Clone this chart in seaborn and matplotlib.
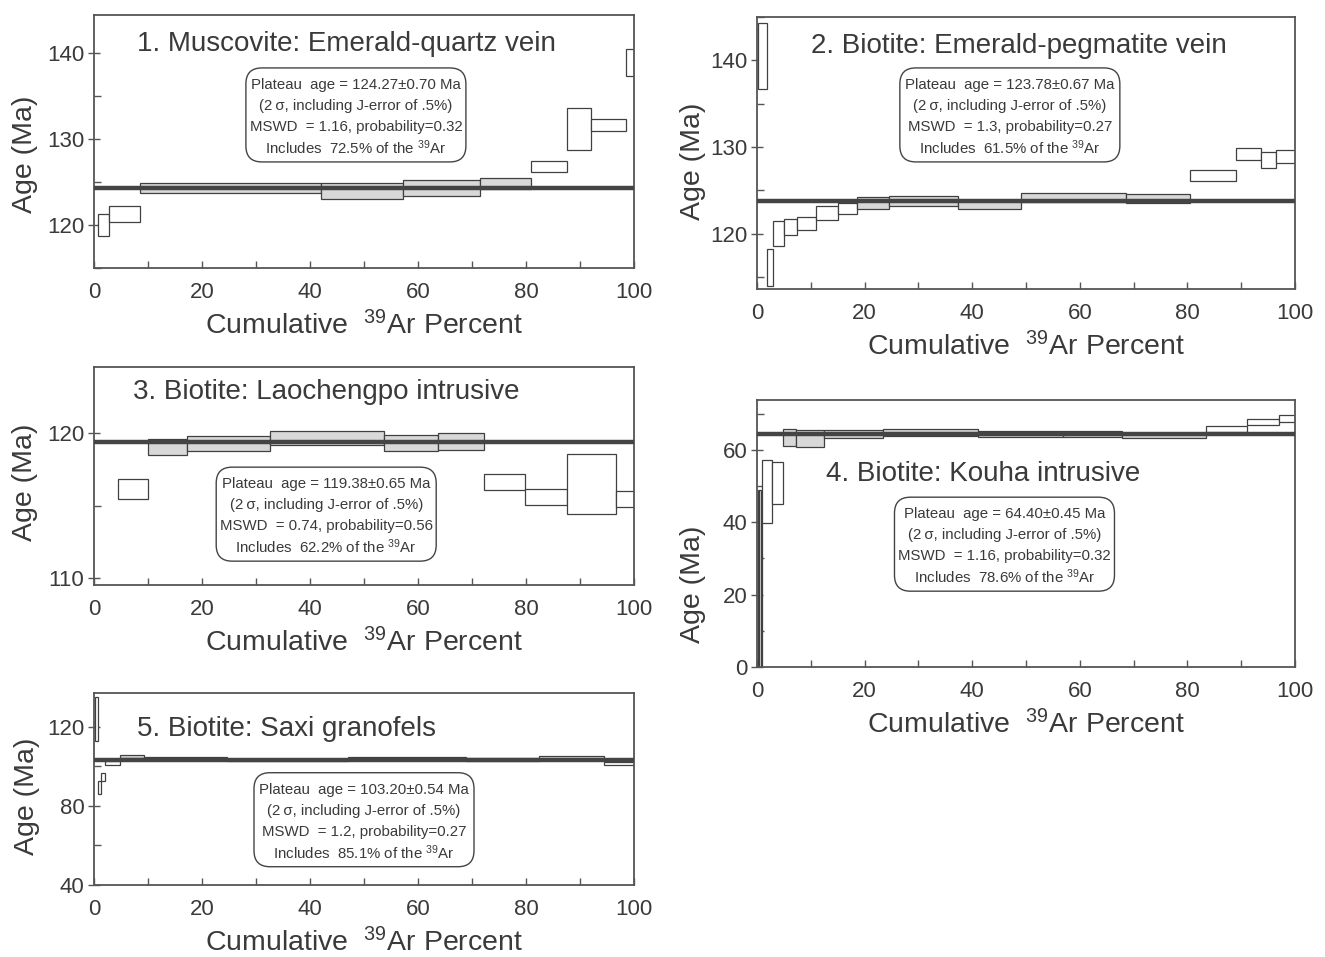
import numpy as np
import matplotlib
matplotlib.use("Agg")
import matplotlib.pyplot as plt
import seaborn as sns
from matplotlib.ticker import MultipleLocator
from matplotlib.patches import FancyBboxPatch
from matplotlib.transforms import IdentityTransform, offset_copy

# ---------------- data (cumulative 39Ar % edges, age, half-error) ----------------
p1_edges = [0.65, 2.8, 8.6, 42.0, 57.2, 71.5, 81.0, 87.6, 92.0, 98.5, 100]
p1_age = [120.0, 121.25, 124.27, 123.97, 124.3, 124.86, 126.76, 131.15, 131.57, 138.9]
p1_err = [1.33, 0.93, 0.58, 0.9, 0.93, 0.64, 0.64, 2.48, 0.7, 1.6]
p1_plateau_steps = [2, 5]
p1_plateau_age = 124.27

p2_edges = [0.2, 1.86, 3.0, 5.0, 7.4, 11.0, 15.0, 18.6, 24.5, 37.4, 49.0, 68.6, 80.4, 89.0, 93.7, 96.5, 100]
p2_age = [140.5, 116.1, 120.0, 120.8, 121.19, 122.39, 122.93, 123.52, 123.77, 123.32, 124.17, 124.05,
          126.68, 129.18, 128.49, 128.9]
p2_err = [3.8, 2.1, 1.4, 0.92, 0.77, 0.78, 0.63, 0.69, 0.6, 0.5, 0.54, 0.54, 0.6, 0.73, 0.92, 0.75]
p2_plateau_steps = [7, 11]
p2_plateau_age = 123.78

p3_edges = [4.4, 10.0, 17.25, 32.55, 53.7, 63.7, 72.2, 79.75, 87.6, 96.7, 100]
p3_age = [116.13, 119.04, 119.31, 119.69, 119.35, 119.44, 116.61, 115.58, 116.5, 115.48]
p3_err = [0.69, 0.57, 0.5, 0.47, 0.54, 0.58, 0.55, 0.55, 2.06, 0.56]
p3_plateau_steps = [1, 5]
p3_plateau_age = 119.38

p4_edges = [0.19, 0.45, 0.72, 1.0, 2.8, 4.9, 7.2, 12.4, 23.45, 41.0, 56.9, 67.9, 83.5, 91.1, 97.1, 100]
p4_age = [20.0, 20.0, 20.0, 48.55, 50.8, 63.45, 63.15, 64.4, 64.85, 64.39, 64.39, 64.07, 65.76, 67.73, 68.79]
p4_err = [29.0, 29.0, 29.0, 8.65, 5.8, 2.35, 2.42, 1.0, 1.0, 0.73, 0.73, 0.69, 0.73, 0.78, 1.0]
p4_plateau_steps = [5, 11]
p4_plateau_age = 64.40

p5_edges = [0.13, 0.65, 1.24, 2.1, 4.9, 9.3, 16.45, 24.6, 37.6, 47.0, 56.3, 62.0, 68.8, 82.4, 94.5, 100]
p5_age = [124.0, 89.25, 94.5, 101.7, 104.9, 104.1, 104.0, 103.3, 103.2, 104.0, 104.0, 103.85, 103.4, 104.5, 101.35]
p5_err = [11.1, 3.5, 2.0, 0.85, 0.7, 0.6, 0.6, 0.6, 0.6, 0.65, 0.65, 0.6, 0.55, 0.65, 0.67]
p5_plateau_steps = [4, 13]
p5_plateau_age = 103.20

titles = ["1. Muscovite: Emerald-quartz vein",
          "2. Biotite: Emerald-pegmatite vein",
          "3. Biotite: Laochengpo intrusive",
          "4. Biotite: Kouha intrusive",
          "5. Biotite: Saxi granofels"]

infos = [
    ["Plateau  age = 124.27\u00b10.70 Ma", "(2\u2009\u03c3, including J-error of .5%)",
     "MSWD  = 1.16, probability=0.32", "Includes  72.5% of the $^{39}$Ar"],
    ["Plateau  age = 123.78\u00b10.67 Ma", "(2\u2009\u03c3, including J-error of .5%)",
     "MSWD  = 1.3, probability=0.27", "Includes  61.5% of the $^{39}$Ar"],
    ["Plateau  age = 119.38\u00b10.65 Ma", "(2\u2009\u03c3, including J-error of .5%)",
     "MSWD  = 0.74, probability=0.56", "Includes  62.2% of the $^{39}$Ar"],
    ["Plateau  age = 64.40\u00b10.45 Ma", "(2\u2009\u03c3, including J-error of .5%)",
     "MSWD  = 1.16, probability=0.32", "Includes  78.6% of the $^{39}$Ar"],
    ["Plateau  age = 103.20\u00b10.54 Ma", "(2\u2009\u03c3, including J-error of .5%)",
     "MSWD  = 1.2, probability=0.27", "Includes  85.1% of the $^{39}$Ar"],
]

x_label = "Cumulative  $^{39}$Ar Percent"
y_label = "Age (Ma)"

# ---------------- style ----------------
sns.set_theme(style="ticks")
plt.rcParams["font.family"] = ["Liberation Sans", "DejaVu Sans"]
plt.rcParams["mathtext.fontset"] = "custom"
plt.rcParams["mathtext.rm"] = "Liberation Sans"
plt.rcParams["mathtext.it"] = "Liberation Sans:italic"
plt.rcParams["mathtext.bf"] = "Liberation Sans:bold"

TXT = "#3a3a3a"
EDGE = "#404040"
FILL = "#d8d8d8"
SPINE = "#555555"

fig = plt.figure(figsize=(13.25, 9.57), dpi=100)
W, H = 1325.0, 957.0


def make_ax(x0, y0, x1, y1):
    return fig.add_axes([x0 / W, 1 - y1 / H, (x1 - x0) / W, (y1 - y0) / H])


def draw(ax, edges, ages, errs, psteps, page, ylim, ymaj, ymin,
         title, tpos, info, ipos, ylab_pos):
    edges = np.asarray(edges, float)
    ages = np.asarray(ages, float)
    errs = np.asarray(errs, float)
    left = edges[:-1]
    width = np.diff(edges)
    colors = [FILL if psteps[0] <= i <= psteps[1] else "white" for i in range(len(ages))]
    ax.bar(left, 2 * errs, width=width, bottom=ages - errs, align="edge",
           color=colors, edgecolor=EDGE, linewidth=0.9, zorder=2)
    sns.lineplot(x=[0, 100], y=[page, page], ax=ax, color="#444444", linewidth=3.2, zorder=3)
    ax.set_xlim(0, 100)
    ax.set_ylim(*ylim)
    ax.xaxis.set_major_locator(MultipleLocator(20))
    ax.xaxis.set_minor_locator(MultipleLocator(10))
    ax.yaxis.set_major_locator(MultipleLocator(ymaj))
    ax.yaxis.set_minor_locator(MultipleLocator(ymin))
    ax.tick_params(axis="both", which="both", width=1.0, color=SPINE,
                   labelsize=16, labelcolor=TXT, top=False, right=False)
    ax.tick_params(axis="x", which="both", direction="in", length=5)
    ax.tick_params(axis="x", which="major", pad=10)
    ax.tick_params(axis="y", which="major", direction="inout", length=8, pad=3)
    ax.tick_params(axis="y", which="minor", direction="in", length=5)
    for s in ax.spines.values():
        s.set_color(SPINE)
        s.set_linewidth(1.3)
    ax.set_xlabel(x_label, fontsize=20.5, color=TXT, labelpad=6)
    ax.set_ylabel(y_label, fontsize=20.5, color=TXT)
    ax.yaxis.set_label_coords(*ylab_pos)
    ax.text(tpos[0], tpos[1], title, transform=ax.transAxes, ha="center", va="center",
            fontsize=20, color=TXT, zorder=5)
    # rounded info box (fixed pixel size) with evenly spaced lines
    cx, cy = ax.transAxes.transform(ipos)
    bw, bh = 220.0, 94.0
    box = FancyBboxPatch((cx - bw / 2, cy - bh / 2), bw, bh,
                         boxstyle="round,pad=0,rounding_size=16",
                         transform=IdentityTransform(), fc="white", ec="#444444",
                         lw=1.0, zorder=6, clip_on=False)
    ax.add_artist(box)
    offsets = [31.5, 10.5, -10.5, -31.5]
    for line, dy in zip(info, offsets):
        tr = offset_copy(ax.transAxes, fig=fig, x=0, y=dy, units="dots")
        ax.text(ipos[0], ipos[1], line, transform=tr, ha="center", va="center_baseline",
                fontsize=10.8, color=TXT, zorder=7)


ax1 = make_ax(94, 15, 634, 268)
draw(ax1, p1_edges, p1_age, p1_err, p1_plateau_steps, p1_plateau_age, (115, 144.4), 10, 5,
     titles[0], (0.467, 0.885), infos[0], (0.485, 0.605), (-0.104, 0.45))

ax2 = make_ax(757, 17, 1295, 289)
draw(ax2, p2_edges, p2_age, p2_err, p2_plateau_steps, p2_plateau_age, (113.6, 145), 10, 5,
     titles[1], (0.487, 0.895), infos[1], (0.470, 0.64), (-0.095, 0.47))

ax3 = make_ax(94, 367, 634, 585)
draw(ax3, p3_edges, p3_age, p3_err, p3_plateau_steps, p3_plateau_age, (109.5, 124.6), 10, 5,
     titles[2], (0.43, 0.885), infos[2], (0.43, 0.325), (-0.104, 0.47))

ax4 = make_ax(757, 400, 1295, 667)
draw(ax4, p4_edges, p4_age, p4_err, p4_plateau_steps, p4_plateau_age, (0, 73.8), 20, 10,
     titles[3], (0.42, 0.723), infos[3], (0.46, 0.46), (-0.095, 0.31))

ax5 = make_ax(94, 693, 634, 885)
draw(ax5, p5_edges, p5_age, p5_err, p5_plateau_steps, p5_plateau_age, (40, 137), 40, 20,
     titles[4], (0.356, 0.81), infos[4], (0.5, 0.34), (-0.1, 0.46))

fig.savefig("out.png", dpi=100, facecolor="white")
